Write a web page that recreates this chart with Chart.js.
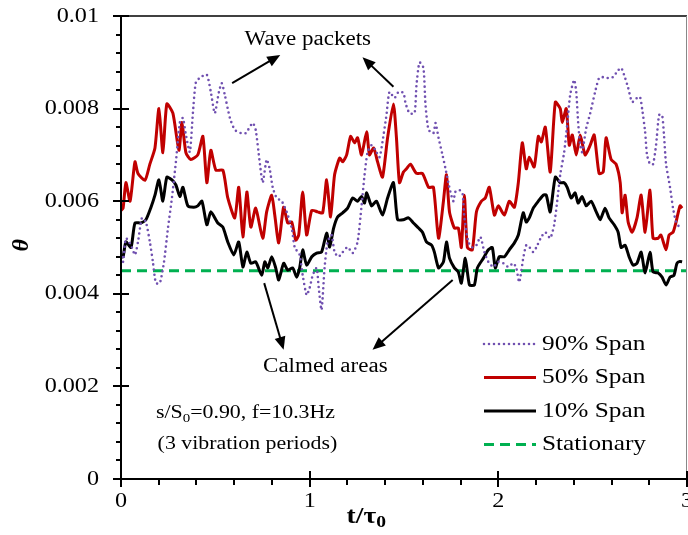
<!DOCTYPE html>
<html>
<head>
<meta charset="utf-8">
<script src="https://cdn.jsdelivr.net/npm/chart.js@4.4.0/dist/chart.umd.min.js"></script>
<style>
  html, body { margin: 0; padding: 0; background: #fff; }
  #wrap { width: 688px; height: 535px; }
</style>
</head>
<body>
<div id="wrap"><canvas id="chart" width="688" height="535"></canvas></div>
<script>
// values: t/tau0 and theta for each span
const t90 = [
  0, 0.011, 0.026, 0.053, 0.074, 0.090, 0.111, 0.132, 0.153, 0.169,
  0.185, 0.206, 0.228, 0.249, 0.270, 0.291, 0.312, 0.328, 0.344, 0.365,
  0.381, 0.397, 0.423, 0.455, 0.476, 0.497, 0.519, 0.534, 0.550, 0.577,
  0.603, 0.635, 0.661, 0.698, 0.714, 0.735, 0.751, 0.772, 0.788, 0.804,
  0.825, 0.852, 0.878, 0.905, 0.921, 0.947, 0.963, 0.984, 1.000, 1.016,
  1.037, 1.048, 1.063, 1.079, 1.095, 1.116, 1.132, 1.153, 1.175, 1.201,
  1.228, 1.254, 1.275, 1.291, 1.307, 1.328, 1.349, 1.370, 1.386, 1.407,
  1.423, 1.450, 1.471, 1.497, 1.508, 1.529, 1.556, 1.566, 1.582, 1.603,
  1.614, 1.630, 1.656, 1.667, 1.683, 1.704, 1.720, 1.735, 1.746, 1.762,
  1.772, 1.794, 1.810, 1.820, 1.841, 1.862, 1.884, 1.905, 1.926, 1.947,
  1.974, 2.000, 2.026, 2.053, 2.079, 2.095, 2.111, 2.132, 2.148, 2.164,
  2.185, 2.201, 2.228, 2.249, 2.275, 2.296, 2.312, 2.328, 2.349, 2.365,
  2.381, 2.402, 2.413, 2.423, 2.434, 2.444, 2.466, 2.487, 2.513, 2.534,
  2.556, 2.582, 2.608, 2.630, 2.651, 2.672, 2.688, 2.709, 2.735, 2.751,
  2.762, 2.778, 2.788, 2.804, 2.820, 2.836, 2.852, 2.868, 2.878, 2.889,
  2.910, 2.926, 2.942, 2.963
];
const span90 = [
  0.0049, 0.00469, 0.0052, 0.00505, 0.00484, 0.00512, 0.00564, 0.00555, 0.00512, 0.00469,
  0.00423, 0.00423, 0.00469, 0.00542, 0.00607, 0.00685, 0.0077, 0.0078, 0.00743, 0.00706,
  0.0079, 0.00857, 0.00868, 0.00873, 0.00836, 0.0079, 0.00836, 0.00855, 0.0083, 0.0078,
  0.00754, 0.00747, 0.00747, 0.00769, 0.00754, 0.00685, 0.0064, 0.0069, 0.0067, 0.0063,
  0.00607, 0.0060, 0.00577, 0.00542, 0.0050, 0.00484, 0.0044, 0.00397, 0.00413, 0.0044,
  0.00456, 0.00413, 0.00365, 0.00456, 0.00512, 0.00527, 0.0049, 0.0048, 0.0049, 0.00501,
  0.00488, 0.00512, 0.0059, 0.00657, 0.00706, 0.00721, 0.0071, 0.00695, 0.00728, 0.00786,
  0.00836, 0.00823, 0.00836, 0.00834, 0.00812, 0.0079, 0.0079, 0.0085, 0.0090, 0.00888,
  0.00808, 0.00754, 0.00747, 0.00769, 0.00737, 0.0070, 0.0067, 0.0064, 0.0062, 0.0060,
  0.0062, 0.00624, 0.00618, 0.00564, 0.00512, 0.0050, 0.00505, 0.00523, 0.0049, 0.00469,
  0.00458, 0.00469, 0.00466, 0.00458, 0.00466, 0.00456, 0.00425, 0.00477, 0.00505, 0.00501,
  0.0049, 0.0050, 0.00523, 0.00533, 0.0052, 0.00549, 0.0060, 0.00657, 0.00706, 0.00765,
  0.0083, 0.00862, 0.00836, 0.0077, 0.00721, 0.00706, 0.00758, 0.0079, 0.00836, 0.00866,
  0.00868, 0.00866, 0.00868, 0.0088, 0.00888, 0.00866, 0.00845, 0.00814, 0.00823, 0.00825,
  0.0080, 0.0075, 0.0070, 0.0068, 0.0068, 0.00721, 0.00786, 0.00786, 0.00743, 0.0068,
  0.0063, 0.00585, 0.00555, 0.00542
];

const t50 = [
  0, 0.011, 0.026, 0.048, 0.074, 0.090, 0.127, 0.153, 0.180, 0.201,
  0.222, 0.243, 0.275, 0.307, 0.323, 0.344, 0.370, 0.407, 0.434, 0.455,
  0.476, 0.503, 0.540, 0.566, 0.603, 0.624, 0.646, 0.667, 0.688, 0.714,
  0.751, 0.772, 0.799, 0.815, 0.836, 0.862, 0.884, 0.905, 0.926, 0.942,
  0.963, 0.984, 1.011, 1.042, 1.069, 1.090, 1.111, 1.132, 1.159, 1.175,
  1.196, 1.217, 1.238, 1.254, 1.275, 1.302, 1.317, 1.339, 1.360, 1.386,
  1.413, 1.444, 1.460, 1.476, 1.497, 1.513, 1.534, 1.566, 1.598, 1.630,
  1.656, 1.683, 1.709, 1.725, 1.741, 1.767, 1.788, 1.804, 1.820, 1.836,
  1.862, 1.884, 1.910, 1.931, 1.952, 1.979, 2.000, 2.032, 2.058, 2.085,
  2.106, 2.127, 2.148, 2.164, 2.190, 2.212, 2.228, 2.249, 2.275, 2.302,
  2.328, 2.339, 2.360, 2.376, 2.392, 2.413, 2.434, 2.460, 2.487, 2.508,
  2.534, 2.556, 2.571, 2.598, 2.624, 2.646, 2.656, 2.672, 2.688, 2.709,
  2.735, 2.757, 2.778, 2.804, 2.820, 2.847, 2.862, 2.889, 2.905, 2.926,
  2.942, 2.963, 2.974
];
const span50 = [
  0.0058, 0.00585, 0.0064, 0.0060, 0.00685, 0.0066, 0.00645, 0.0068, 0.00715, 0.0080,
  0.00705, 0.0081, 0.0079, 0.0071, 0.0077, 0.00705, 0.0069, 0.0070, 0.0074, 0.0064,
  0.0071, 0.00667, 0.00667, 0.00607, 0.00564, 0.0063, 0.00523, 0.0062, 0.00544, 0.00585,
  0.0052, 0.00577, 0.00613, 0.0057, 0.0051, 0.00587, 0.00553, 0.00555, 0.00516, 0.00527,
  0.0062, 0.00527, 0.0058, 0.00577, 0.00575, 0.00646, 0.00566, 0.00657, 0.00693, 0.00685,
  0.0070, 0.0074, 0.00726, 0.00737, 0.0070, 0.0075, 0.0070, 0.00715, 0.00685, 0.00652,
  0.00737, 0.0081, 0.00737, 0.0064, 0.00663, 0.0067, 0.0068, 0.0066, 0.0066, 0.0063,
  0.0063, 0.0052, 0.0060, 0.00657, 0.00577, 0.00542, 0.00542, 0.0050, 0.00613, 0.0050,
  0.00495, 0.00577, 0.0060, 0.00607, 0.0063, 0.0057, 0.0059, 0.0057, 0.0060, 0.00587,
  0.0064, 0.00726, 0.0067, 0.00695, 0.00674, 0.0074, 0.00728, 0.0076, 0.00663, 0.00814,
  0.0080, 0.0077, 0.0080, 0.00721, 0.00743, 0.0070, 0.00743, 0.0070, 0.00721, 0.00743,
  0.0066, 0.00663, 0.00737, 0.0069, 0.0068, 0.0064, 0.00575, 0.00613, 0.00555, 0.00533,
  0.00564, 0.00613, 0.00533, 0.00624, 0.0052, 0.0052, 0.00527, 0.00495, 0.00527, 0.00533,
  0.00555, 0.0059, 0.00585
];

const t10 = [
  0, 0.011, 0.026, 0.053, 0.074, 0.106, 0.132, 0.159, 0.180, 0.201,
  0.222, 0.243, 0.270, 0.291, 0.312, 0.328, 0.354, 0.386, 0.407, 0.429,
  0.455, 0.476, 0.513, 0.540, 0.566, 0.598, 0.624, 0.646, 0.667, 0.688,
  0.714, 0.746, 0.762, 0.778, 0.799, 0.820, 0.836, 0.862, 0.884, 0.910,
  0.931, 0.947, 0.963, 0.984, 1.011, 1.037, 1.063, 1.090, 1.106, 1.127,
  1.148, 1.175, 1.201, 1.228, 1.254, 1.275, 1.291, 1.302, 1.328, 1.354,
  1.386, 1.413, 1.444, 1.466, 1.497, 1.524, 1.550, 1.577, 1.598, 1.619,
  1.646, 1.661, 1.683, 1.709, 1.725, 1.741, 1.767, 1.788, 1.804, 1.825,
  1.847, 1.873, 1.889, 1.921, 1.947, 1.968, 1.984, 2.005, 2.032, 2.058,
  2.085, 2.106, 2.132, 2.148, 2.164, 2.185, 2.212, 2.238, 2.254, 2.275,
  2.302, 2.328, 2.349, 2.365, 2.386, 2.407, 2.423, 2.444, 2.466, 2.492,
  2.519, 2.540, 2.566, 2.587, 2.614, 2.635, 2.651, 2.672, 2.693, 2.714,
  2.735, 2.757, 2.778, 2.804, 2.820, 2.847, 2.868, 2.889, 2.910, 2.931,
  2.947, 2.963, 2.974
];
const span10 = [
  0.0048, 0.0048, 0.00512, 0.0050, 0.00553, 0.00553, 0.0056, 0.00587, 0.00613, 0.00646,
  0.0060, 0.00652, 0.00646, 0.00635, 0.0061, 0.0063, 0.0059, 0.00587, 0.0059, 0.0060,
  0.00549, 0.00577, 0.00553, 0.00544, 0.00512, 0.00484, 0.00512, 0.00458, 0.0049, 0.00466,
  0.00469, 0.0044, 0.00469, 0.00456, 0.0048, 0.00456, 0.0043, 0.00466, 0.00451, 0.00456,
  0.00436, 0.00456, 0.00495, 0.00462, 0.0048, 0.00488, 0.0049, 0.00531, 0.00501, 0.00542,
  0.00566, 0.00575, 0.00585, 0.00607, 0.0060, 0.0061, 0.00596, 0.00618, 0.0059, 0.0060,
  0.0057, 0.00607, 0.0064, 0.0056, 0.0056, 0.00564, 0.00553, 0.00542, 0.00533, 0.00512,
  0.00505, 0.0049, 0.00456, 0.00469, 0.00512, 0.00477, 0.00456, 0.00447, 0.00423, 0.00477,
  0.00419, 0.00419, 0.00456, 0.00477, 0.00495, 0.0050, 0.00456, 0.0048, 0.0048, 0.00495,
  0.0051, 0.00527, 0.00575, 0.00555, 0.00564, 0.00585, 0.0060, 0.00613, 0.00613, 0.00577,
  0.00652, 0.0064, 0.0064, 0.0063, 0.00607, 0.00618, 0.00596, 0.0061, 0.0059, 0.0060,
  0.00577, 0.0056, 0.00585, 0.00564, 0.00549, 0.00533, 0.0050, 0.00505, 0.0048, 0.00462,
  0.00466, 0.0049, 0.00445, 0.0049, 0.00447, 0.00445, 0.00436, 0.00419, 0.00436, 0.0044,
  0.00466, 0.0047, 0.00469
];

const tStationary = [0, 3];
const stationary = [0.0045, 0.0045];

const seriesNames = ['90% Span', '50% Span', '10% Span', 'Stationary'];
const xTicks = [0, 1, 2, 3];
const xTickLabels = ['0', '1', '2', '3'];
const yTicks = [0, 0.002, 0.004, 0.006, 0.008, 0.01];
const yTickLabels = ['0', '0.002', '0.004', '0.006', '0.008', '0.01'];

function pairs(xs, ys) {
  return xs.map(function(x, i) { return { x: x, y: ys[i] }; });
}

const SERIF = '"Liberation Serif", "Times New Roman", serif';
const STRETCH = 1.15;

// draws a list of [text, sizeFactor, baselineShift] runs, stretched horizontally
function drawRuns(ctx, runs, x, y, size, weight, align) {
  ctx.save();
  let total = 0;
  runs.forEach(function(r) {
    ctx.font = weight + ' ' + Math.round(size * r[1]) + 'px ' + SERIF;
    total += ctx.measureText(r[0]).width;
  });
  total *= STRETCH;
  let start = x;
  if (align === 'center') start = x - total / 2;
  if (align === 'right') start = x - total;
  ctx.translate(start, y);
  ctx.scale(STRETCH, 1);
  ctx.textBaseline = 'middle';
  ctx.textAlign = 'left';
  ctx.fillStyle = '#000';
  let cx = 0;
  runs.forEach(function(r) {
    ctx.font = weight + ' ' + Math.round(size * r[1]) + 'px ' + SERIF;
    ctx.fillText(r[0], cx, r[2]);
    cx += ctx.measureText(r[0]).width;
  });
  ctx.restore();
}

function arrow(ctx, x1, y1, x2, y2) {
  const ang = Math.atan2(y2 - y1, x2 - x1);
  const len = 13, half = 5.5;
  ctx.save();
  ctx.strokeStyle = '#000';
  ctx.fillStyle = '#000';
  ctx.lineWidth = 2;
  ctx.beginPath();
  ctx.moveTo(x1, y1);
  ctx.lineTo(x2 - Math.cos(ang) * len * 0.8, y2 - Math.sin(ang) * len * 0.8);
  ctx.stroke();
  ctx.beginPath();
  ctx.moveTo(x2, y2);
  ctx.lineTo(x2 - Math.cos(ang) * len - Math.sin(ang) * half, y2 - Math.sin(ang) * len + Math.cos(ang) * half);
  ctx.lineTo(x2 - Math.cos(ang) * len + Math.sin(ang) * half, y2 - Math.sin(ang) * len - Math.cos(ang) * half);
  ctx.closePath();
  ctx.fill();
  ctx.restore();
}

const axesPlugin = {
  id: 'axesPlugin',
  afterDraw(chart) {
    const ctx = chart.ctx;
    const xs = chart.scales.x, ys = chart.scales.y;
    const a = chart.chartArea;

    ctx.save();
    // frame
    ctx.strokeStyle = '#000';
    ctx.lineWidth = 1.5;
    ctx.beginPath();
    ctx.moveTo(a.left, a.top); ctx.lineTo(a.right, a.top);
    ctx.stroke();
    ctx.strokeStyle = '#888';
    ctx.lineWidth = 1;
    ctx.beginPath();
    ctx.moveTo(a.right - 0.5, a.top); ctx.lineTo(a.right - 0.5, a.bottom);
    ctx.stroke();
    ctx.strokeStyle = '#000';
    ctx.lineWidth = 2;
    ctx.beginPath();
    ctx.moveTo(a.left, a.top - 1); ctx.lineTo(a.left, a.bottom);
    ctx.lineTo(a.right, a.bottom);
    ctx.stroke();

    // y ticks
    for (let v = 0; v <= 0.01 + 1e-9; v += 0.0004) {
      const py = Math.round(ys.getPixelForValue(v));
      const major = Math.abs(v / 0.002 - Math.round(v / 0.002)) < 1e-6;
      ctx.beginPath();
      if (major) { ctx.moveTo(a.left - 8, py); ctx.lineTo(a.left + 8, py); }
      else { ctx.moveTo(a.left - 5, py); ctx.lineTo(a.left, py); }
      ctx.stroke();
    }
    // x ticks
    for (let v = 0; v <= 3 + 1e-9; v += 0.2) {
      const px = Math.round(xs.getPixelForValue(v));
      const major = Math.abs(v - Math.round(v)) < 1e-6;
      ctx.beginPath();
      if (major) { ctx.moveTo(px, a.bottom - 8); ctx.lineTo(px, a.bottom + 8); }
      else { ctx.moveTo(px, a.bottom); ctx.lineTo(px, a.bottom + 6); }
      ctx.stroke();
    }
    ctx.restore();

    // tick labels
    yTicks.forEach(function(v, i) {
      drawRuns(ctx, [[yTickLabels[i], 1, 0]], a.left - 22, ys.getPixelForValue(v), 21, 'normal', 'right');
    });
    xTicks.forEach(function(v, i) {
      drawRuns(ctx, [[xTickLabels[i], 1, 0]], xs.getPixelForValue(v), a.bottom + 22, 21, 'normal', 'center');
    });

    // axis titles
    drawRuns(ctx, [['t/τ', 1, 0], ['0', 0.7, 6]], xs.getPixelForValue(1.3), a.bottom + 38, 24, 'bold', 'center');
    ctx.save();
    ctx.translate(22, ys.getPixelForValue(0.00505));
    ctx.rotate(-Math.PI / 2);
    ctx.font = 'italic bold 24px ' + SERIF;
    ctx.textAlign = 'center';
    ctx.textBaseline = 'middle';
    ctx.fillStyle = '#000';
    ctx.fillText('θ', 0, 0);
    ctx.restore();

    // annotations, placed in data units
    const P = function(t, v) { return [xs.getPixelForValue(t), ys.getPixelForValue(v)]; };
    let p = P(0.99, 0.00948);
    drawRuns(ctx, [['Wave packets', 1, 0]], p[0], p[1], 20, 'normal', 'center');
    let s = P(0.589, 0.00855), e = P(0.844, 0.00916);
    arrow(ctx, s[0], s[1], e[0], e[1]);
    s = P(1.444, 0.00847); e = P(1.28, 0.00911);
    arrow(ctx, s[0], s[1], e[0], e[1]);

    p = P(1.083, 0.00242);
    drawRuns(ctx, [['Calmed areas', 1, 0]], p[0], p[1], 20, 'normal', 'center');
    s = P(0.759, 0.00423); e = P(0.862, 0.00279);
    arrow(ctx, s[0], s[1], e[0], e[1]);
    s = P(1.758, 0.0043); e = P(1.333, 0.00279);
    arrow(ctx, s[0], s[1], e[0], e[1]);

    p = P(0.66, 0.00142);
    drawRuns(ctx, [['s/S', 1, 0], ['0', 0.68, 5], ['=0.90, f=10.3Hz', 1, 0]], p[0], p[1], 18.5, 'normal', 'center');
    p = P(0.67, 0.00075);
    drawRuns(ctx, [['(3 vibration periods)', 1, 0]], p[0], p[1], 18.5, 'normal', 'center');

    // legend
    const legendOrder = [0, 1, 2, 3];
    legendOrder.forEach(function(di, i) {
      const ds = chart.data.datasets[di];
      const ly = 344 + i * 33.5;
      ctx.save();
      ctx.strokeStyle = ds.borderColor;
      ctx.lineWidth = ds.borderWidth;
      ctx.lineCap = ds.borderCapStyle || 'butt';
      ctx.setLineDash(ds.borderDash || []);
      ctx.beginPath();
      ctx.moveTo(484, ly); ctx.lineTo(536, ly);
      ctx.stroke();
      ctx.restore();
      drawRuns(ctx, [[ds.label, 1, 0]], 542, ly, 21.5, 'normal', 'left');
    });
  }
};

new Chart(document.getElementById('chart'), {
  type: 'line',
  data: {
    datasets: [
      {
        label: seriesNames[0],
        data: pairs(t90, span90),
        borderColor: '#7050b0',
        borderWidth: 2.6,
        borderDash: [0, 5],
        borderCapStyle: 'round',
        tension: 0.2
      },
      {
        label: seriesNames[1],
        data: pairs(t50, span50),
        borderColor: '#c00000',
        borderWidth: 3,
        borderCapStyle: 'butt',
        tension: 0.2
      },
      {
        label: seriesNames[2],
        data: pairs(t10, span10),
        borderColor: '#000000',
        borderWidth: 3,
        borderCapStyle: 'butt',
        tension: 0.2
      },
      {
        label: seriesNames[3],
        data: pairs(tStationary, stationary),
        borderColor: '#00b050',
        borderWidth: 3,
        borderDash: [10, 6],
        borderCapStyle: 'butt',
        tension: 0
      }
    ]
  },
  options: {
    responsive: false,
    animation: false,
    layout: { padding: { left: 121, right: 1, top: 16, bottom: 56 } },
    elements: { point: { radius: 0 } },
    plugins: { legend: { display: false }, tooltip: { enabled: false } },
    scales: {
      x: { type: 'linear', min: 0, max: 3, display: false },
      y: { type: 'linear', min: 0, max: 0.01, display: false }
    }
  },
  plugins: [axesPlugin]
});
</script>
</body>
</html>
